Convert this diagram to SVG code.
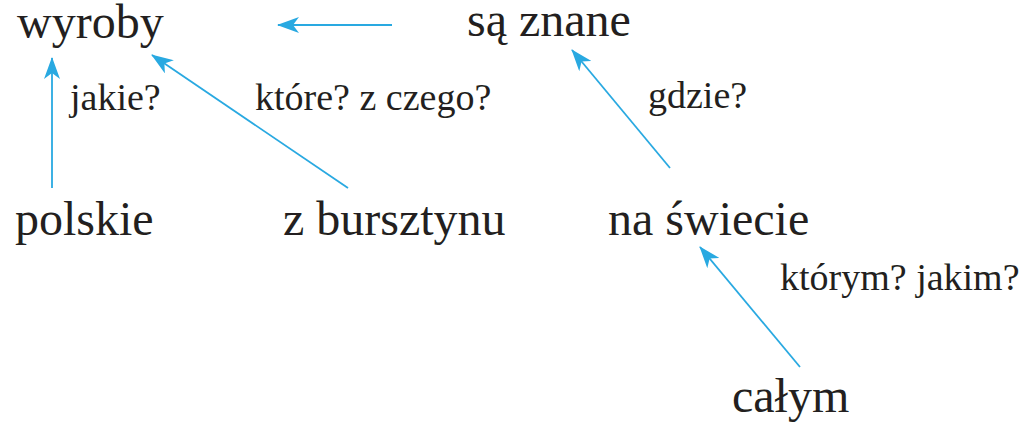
<svg xmlns="http://www.w3.org/2000/svg" width="1024" height="440" viewBox="0 0 1024 440">
<defs>
<style>
svg text{font-family:'Liberation Serif','Times New Roman',serif !important;fill:#231f20}
.big{font-size:48px}
.q{font-size:38px}
.c{stroke:#29a9e1;stroke-width:1.8;fill:none}
</style>
<marker id="ah" viewBox="0 0 22 16" refX="21" refY="8" markerWidth="22" markerHeight="16" markerUnits="userSpaceOnUse" orient="auto">
<path d="M22,8 L0,0 L6,8 L0,16 Z" fill="#29a9e1"/>
</marker>
</defs>
<rect width="1024" height="440" fill="#fff"/>
<g id="connectors">
<line class="c" x1="392" y1="25" x2="278" y2="25" marker-end="url(#ah)"/>
<line class="c" x1="52" y1="188" x2="52" y2="58" marker-end="url(#ah)"/>
<line class="c" x1="348" y1="188" x2="152" y2="55" marker-end="url(#ah)"/>
<line class="c" x1="670" y1="168" x2="572" y2="50" marker-end="url(#ah)"/>
<line class="c" x1="800" y1="367" x2="700" y2="247" marker-end="url(#ah)"/>
</g>
<g id="wyroby"><text class="big" font-family="Liberation Serif" x="17" y="38">wyroby</text></g>
<g id="sa-znane"><text class="big" font-family="Liberation Serif" x="467" y="36">są znane</text></g>
<g id="polskie"><text class="big" font-family="Liberation Serif" x="15" y="235">polskie</text></g>
<g id="z-bursztynu"><text class="big" font-family="Liberation Serif" x="283" y="235">z bursztynu</text></g>
<g id="na-swiecie"><text class="big" font-family="Liberation Serif" x="608" y="235">na świecie</text></g>
<g id="calym"><text class="big" font-family="Liberation Serif" x="732" y="412">całym</text></g>
<g id="labels">
<text class="q" font-family="Liberation Serif" x="70" y="110">jakie?</text>
<text class="q" font-family="Liberation Serif" x="255" y="110">które? z czego?</text>
<text class="q" font-family="Liberation Serif" x="648" y="108">gdzie?</text>
<text class="q" font-family="Liberation Serif" x="780" y="290">którym? jakim?</text>
</g>
</svg>
